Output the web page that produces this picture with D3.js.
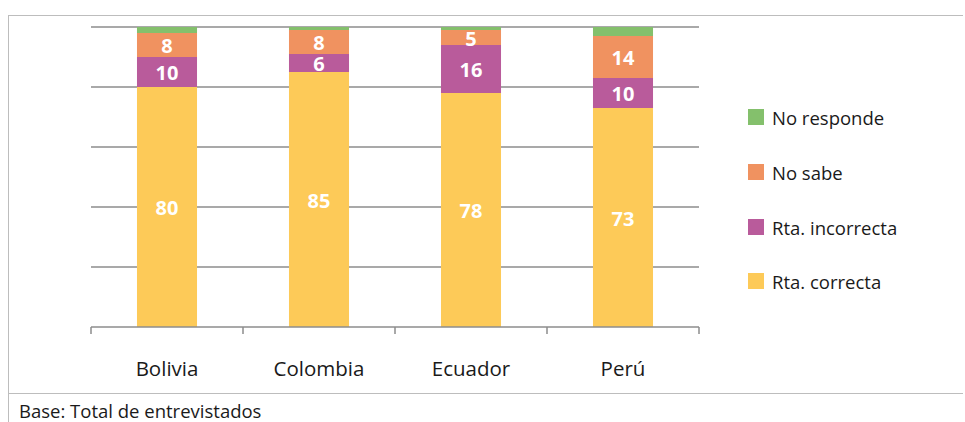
<!DOCTYPE html>
<html>
<head>
<meta charset="utf-8">
<script src="https://cdn.jsdelivr.net/npm/d3@7"></script>
<style>
  html, body { margin: 0; padding: 0; background: #fff; }
  svg { display: block; font-family: "Open Sans", "Noto Sans", sans-serif; }
</style>
</head>
<body>
<svg id="chart" width="965" height="422"></svg>
<script>
// Countries along the x axis
const categories = ["Bolivia", "Colombia", "Ecuador", "Perú"];

// Percentages per answer, stacked bottom to top
const correcta   = [80, 85, 78, 73];
const incorrecta = [10, 6, 16, 10];
const noSabe     = [8, 8, 5, 14];
const noResponde = [2, 1, 1, 3];

const seriesNames  = ["Rta. correcta", "Rta. incorrecta", "No sabe", "No responde"];
const seriesColors = ["#fdca58", "#b95b9b", "#f09260", "#84c06c"];
const showLabels   = [true, true, true, false];

const yTicks = [0, 20, 40, 60, 80, 100];

const seriesValues = [correcta, incorrecta, noSabe, noResponde];
const rows = categories.map((c, i) => {
  const r = { cat: c };
  seriesNames.forEach((s, k) => { r[s] = seriesValues[k][i]; });
  return r;
});

const svg = d3.select("#chart");
const W = 965, H = 422;

// Outer frame lines
svg.append("line").attr("x1", 8.5).attr("x2", 8.5).attr("y1", 15).attr("y2", H)
  .attr("stroke", "#bdbdbd").attr("stroke-width", 1);
svg.append("line").attr("x1", 8).attr("x2", 963).attr("y1", 15.5).attr("y2", 15.5)
  .attr("stroke", "#bdbdbd").attr("stroke-width", 1);
svg.append("line").attr("x1", 8).attr("x2", 963).attr("y1", 393.5).attr("y2", 393.5)
  .attr("stroke", "#bdbdbd").attr("stroke-width", 1);

const plot = { left: 91, right: 699, top: 27, bottom: 327 };

const x = d3.scaleBand().domain(categories).range([plot.left, plot.right])
  .paddingInner(0.605).paddingOuter(0.3025);
const xOuter = d3.scaleBand().domain(categories).range([plot.left, plot.right]);
const y = d3.scaleLinear().domain([0, 100]).range([plot.bottom, plot.top]);

// Horizontal gridlines
svg.append("g").selectAll("line").data(yTicks.filter(t => t > 0)).join("line")
  .attr("x1", plot.left).attr("x2", plot.right)
  .attr("y1", d => y(d)).attr("y2", d => y(d))
  .attr("stroke", "#8c8c8c").attr("stroke-width", 1.5);

// Stacked bars
const stack = d3.stack().keys(seriesNames)(rows);
const layers = svg.append("g").selectAll("g").data(stack).join("g")
  .attr("fill", (d, i) => seriesColors[i]);
layers.selectAll("rect").data(d => d).join("rect")
  .attr("x", d => x(d.data.cat))
  .attr("width", x.bandwidth())
  .attr("y", d => y(d[1]))
  .attr("height", d => y(d[0]) - y(d[1]));

// Value labels
const labelG = svg.append("g");
stack.forEach((layer, i) => {
  if (!showLabels[i]) return;
  labelG.selectAll(null).data(layer).join("text")
    .attr("x", d => x(d.data.cat) + x.bandwidth() / 2)
    .attr("y", d => (y(d[0]) + y(d[1])) / 2 + 1)
    .attr("dy", "0.36em")
    .attr("text-anchor", "middle")
    .attr("fill", "#ffffff")
    .attr("font-weight", "bold")
    .attr("font-size", 20)
    .text(d => d[1] - d[0]);
});

// Category axis with tick marks at band edges
const axisG = svg.append("g");
axisG.append("line").attr("x1", plot.left).attr("x2", plot.right)
  .attr("y1", plot.bottom).attr("y2", plot.bottom)
  .attr("stroke", "#8c8c8c").attr("stroke-width", 1.5);
const edges = categories.map(c => xOuter(c)).concat([plot.right]);
axisG.selectAll("line.tick").data(edges).join("line").attr("class", "tick")
  .attr("x1", d => d).attr("x2", d => d)
  .attr("y1", plot.bottom).attr("y2", plot.bottom + 7)
  .attr("stroke", "#8c8c8c").attr("stroke-width", 1.5);
axisG.selectAll("text").data(categories).join("text")
  .attr("x", d => xOuter(d) + xOuter.bandwidth() / 2)
  .attr("y", 376)
  .attr("text-anchor", "middle")
  .attr("font-size", 20.5)
  .attr("fill", "#1a1a1a")
  .text(d => d);

// Legend, top entry is the last stacked series
const legendOrder = [3, 2, 1, 0];
const legendY = [117, 172, 227, 281];
const legend = svg.append("g");
legendOrder.forEach((k, j) => {
  legend.append("rect").attr("x", 748).attr("y", legendY[j] - 8)
    .attr("width", 16).attr("height", 16).attr("fill", seriesColors[k]);
  legend.append("text").attr("x", 772).attr("y", legendY[j] + 1).attr("dy", "0.36em")
    .attr("font-size", 18.5).attr("fill", "#1a1a1a").text(seriesNames[k]);
});

// Footnote
svg.append("text").attr("x", 19).attr("y", 418)
  .attr("font-size", 18.5).attr("fill", "#1a1a1a")
  .text("Base: Total de entrevistados");
</script>
</body>
</html>
